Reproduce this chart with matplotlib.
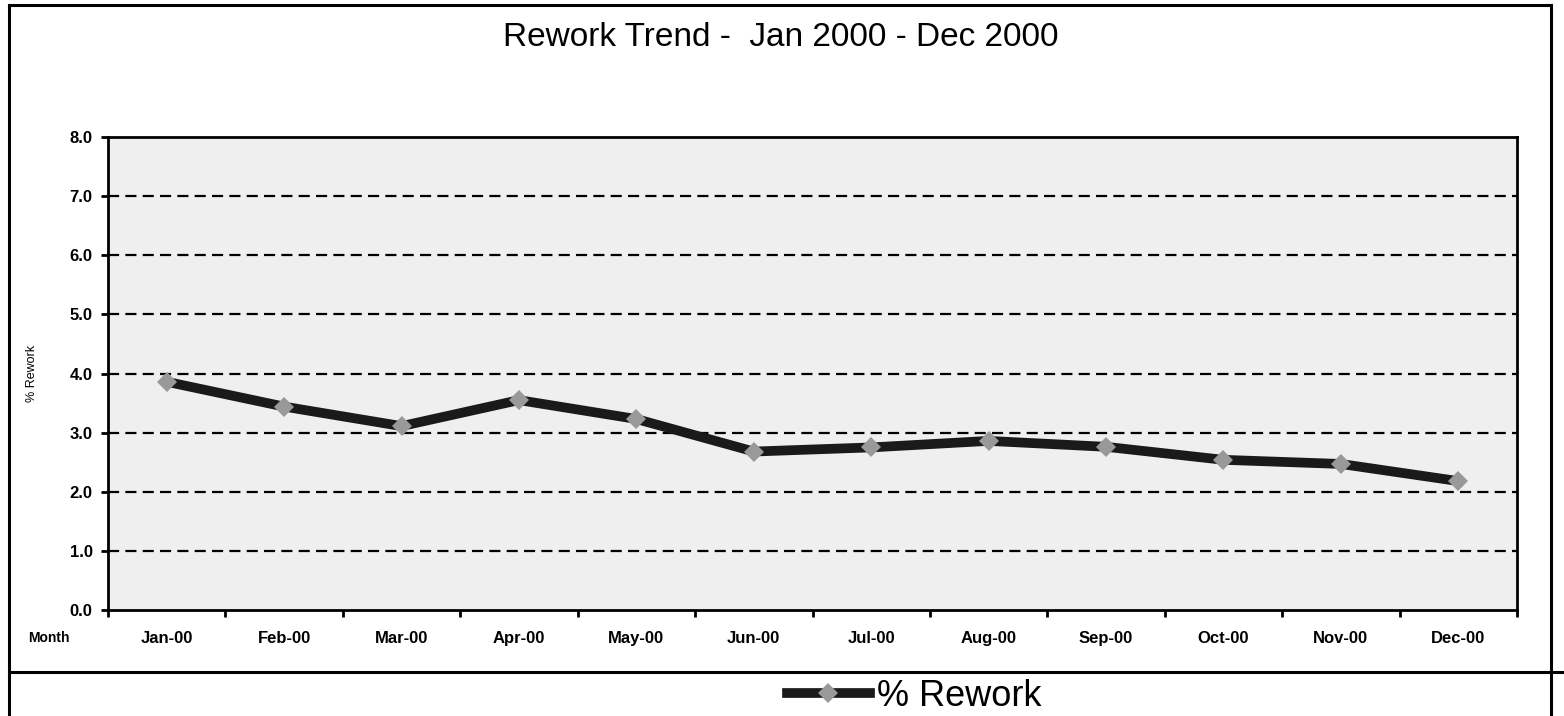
import matplotlib.pyplot as plt
import numpy as np
from matplotlib.lines import Line2D

months = ["Jan-00", "Feb-00", "Mar-00", "Apr-00", "May-00", "Jun-00",
          "Jul-00", "Aug-00", "Sep-00", "Oct-00", "Nov-00", "Dec-00"]
rework = [3.86, 3.44, 3.11, 3.55, 3.23, 2.68, 2.75, 2.86, 2.76, 2.54, 2.47, 2.18]
yticks = [0, 1, 2, 3, 4, 5, 6, 7, 8]

plt.rcParams['font.family'] = ['Liberation Sans', 'DejaVu Sans']

W, H = 1564, 716
fig = plt.figure(figsize=(W / 100, H / 100), dpi=100)
ax = fig.add_axes([108 / W, 1 - 610 / H, (1517 - 108) / W, (610 - 137) / H])
ax.set_facecolor('#efefef')

x = np.arange(len(months))
ax.plot(x, rework, color='#1a1a1a', lw=7, marker='D', markersize=10.5,
        markerfacecolor='#999999', markeredgewidth=0, label='% Rework', zorder=3)

ax.set_xlim(-0.5, len(months) - 0.5)
ax.set_ylim(0, 8)
ax.set_yticks(yticks)
ax.set_yticklabels([f"{v:.1f}" for v in yticks], fontsize=12, fontweight='bold')
ax.set_xticks(x)
ax.set_xticklabels(months, fontsize=12, fontweight='bold')
ax.set_xticks(np.arange(len(months) + 1) - 0.5, minor=True)
ax.tick_params(axis='x', which='major', length=0, pad=15)
ax.tick_params(axis='x', which='minor', length=5, width=2, direction='out')
ax.tick_params(axis='y', length=5, width=2, pad=6)

for v in yticks[1:-1]:
    ax.axhline(v, color='black', lw=1.6, ls=(0, (5, 2.8)), zorder=1)

for s in ax.spines.values():
    s.set_linewidth(2)
    s.set_color('black')

ax.set_ylabel('% Rework', fontsize=9)
ax.yaxis.set_label_coords(-0.05, 0.5)
fig.text(49 / W, 1 - 638 / H, 'Month', fontsize=10, fontweight='bold',
         ha='center', va='center')

fig.text(781 / W, 1 - 38 / H, 'Rework Trend -  Jan 2000 - Dec 2000',
         fontsize=24, ha='center', va='center')

# chart frame and legend separator
lw = 2.2
fig.add_artist(Line2D([9 / W, 9 / W], [0, 1 - 5 / H], color='black', lw=lw))
fig.add_artist(Line2D([9 / W, 1551 / W], [1 - 5 / H, 1 - 5 / H], color='black', lw=lw))
fig.add_artist(Line2D([1551 / W, 1551 / W], [0, 1 - 5 / H], color='black', lw=lw))
fig.add_artist(Line2D([9 / W, 1], [1 - 672 / H, 1 - 672 / H], color='black', lw=lw))

fig.legend(loc='center', bbox_to_anchor=(914 / W, 1 - 696 / H), frameon=False,
           fontsize=26, handlelength=2.3, handletextpad=0.2, borderpad=0)

fig.savefig('out.png', dpi=100)
